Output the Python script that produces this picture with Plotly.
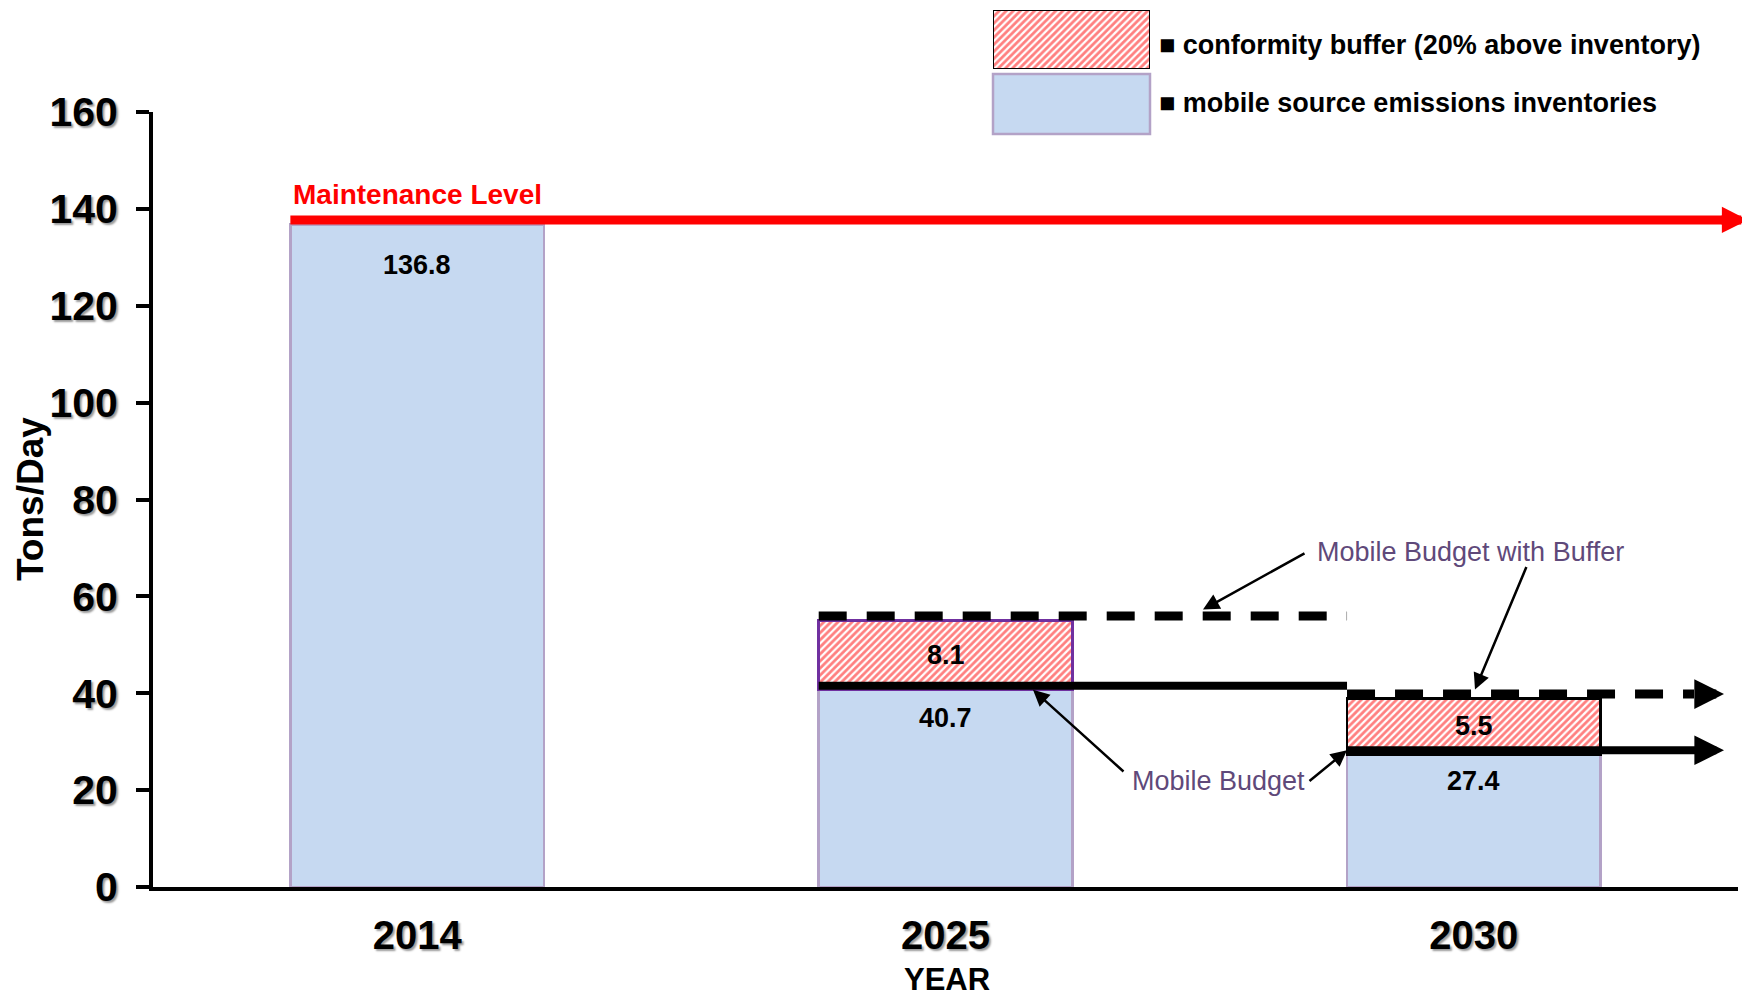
import plotly.graph_objects as go

# ---------------- data ----------------
years = ["2014", "2025", "2030"]
inventory = [136.8, 40.7, 27.4]                 # mobile source emissions inventories
inventory_labels = ["136.8", "40.7", "27.4"]
buffer_heights = [None, 14.3, 11.5]             # drawn height of the hatched buffer boxes
buffer_labels = ["", "8.1", "5.5"]              # conformity buffer values as labelled
maintenance_level = 136.8
y_ticks = [0, 20, 40, 60, 80, 100, 120, 140, 160]

# ---------------- layout constants ----------------
OX, OY = 8, 8                      # page body margin
W, H = 1750 - OX, 1003 - OY
L, R, T, B = 153, 1738, 112, 887   # plot-area extents in screen pixels
px_per_cat = (R - L) / 3.0
x_range = [-0.5, -0.5 + (1750 - L) / px_per_cat]
BAR_W = 0.48
FONT = "Liberation Sans"
BLUE = "#C6D9F1"
BLUE_EDGE = "#B3A2C7"
PURPLE_TXT = "#5F497A"
HATCH = dict(shape="/", fgcolor="#FF0000", bgcolor="white", size=5, solidity=0.55)

xs = list(range(len(years)))


def px2x(p):
    return (p - L) / px_per_cat - 0.5


def pxp(p):
    return (p - OX) / W


def pyp(p):
    return 1 - (p - OY) / H


red_tip = px2x(1748)
black_tip = px2x(1724)

fig = go.Figure()

fig.add_trace(go.Bar(
    x=xs, y=inventory, width=BAR_W,
    marker=dict(color=BLUE, line=dict(color=BLUE_EDGE, width=2.5)),
    hoverinfo="skip", showlegend=False))

fig.add_trace(go.Bar(
    x=xs, y=buffer_heights, width=BAR_W,
    marker=dict(color="white", pattern=HATCH,
                line=dict(color=["rgba(0,0,0,0)", "#7030A0", "black"], width=2.5)),
    hoverinfo="skip", showlegend=False))

# legend swatch (hatched) drawn on a hidden mini axis
fig.add_trace(go.Bar(
    x=[0], y=[1], width=1, xaxis="x2", yaxis="y2", cliponaxis=False,
    marker=dict(color="white", pattern=HATCH, line=dict(color="black", width=2.5)),
    hoverinfo="skip", showlegend=False))

shapes = []
ann = []


def hline(x0, x1, yval, off, width, color, dash="solid"):
    shapes.append(dict(type="line", xref="x", yref="y", x0=x0, x1=x1,
                       ysizemode="pixel", yanchor=yval, y0=off, y1=off,
                       line=dict(color=color, width=width, dash=dash), layer="above"))


def head(xtip, yval, off, color, width, size):
    ann.append(dict(x=xtip, y=yval, yshift=off, ax=-28, ay=0, text="", showarrow=True,
                    arrowhead=2, arrowsize=size, arrowwidth=width, arrowcolor=color,
                    standoff=0))


# maintenance level arrow
hline(0 - BAR_W / 2, red_tip - 0.03, maintenance_level, 4.5, 9, "#FF0000")
head(red_tip, maintenance_level, 4.5, "#FF0000", 9, 0.58)

# mobile budget lines
top25 = inventory[1] + buffer_heights[1]
top30 = inventory[2] + buffer_heights[2]
hline(1 - BAR_W / 2, 2 - BAR_W / 2, top25, 4.5, 9, "black", "28px,20px")
hline(1 - BAR_W / 2, 2 - BAR_W / 2, inventory[1], 4, 8, "black")
hline(2 - BAR_W / 2, black_tip - 30 / px_per_cat, top30, 4.5, 9, "black", "28px,20px")
head(black_tip, top30, 4.5, "black", 9, 0.66)
hline(2 - BAR_W / 2, black_tip - 0.03, inventory[2], 4, 8, "black")
head(black_tip, inventory[2], 4, "black", 8, 0.74)

# x axis line
shapes.append(dict(type="line", xref="paper", yref="paper", x0=pxp(L - 4), x1=pxp(R),
                   y0=pyp(B + 2), y1=pyp(B + 2), line=dict(color="black", width=4)))

# legend plain swatch
shapes.append(dict(type="rect", xref="paper", yref="paper",
                   x0=pxp(993), x1=pxp(1150), y0=pyp(134), y1=pyp(74),
                   fillcolor=BLUE, line=dict(color=BLUE_EDGE, width=2.5)))

label_shift = [-41, -28, -27]
for i in xs:
    ann.append(dict(x=i, y=inventory[i], yshift=label_shift[i], text=inventory_labels[i],
                    xanchor="center", yanchor="middle", showarrow=False,
                    font=dict(family=FONT, size=27, color="black", weight="bold")))
    if buffer_heights[i]:
        ann.append(dict(x=i, y=inventory[i] + buffer_heights[i] / 2, text=buffer_labels[i],
                        xanchor="center", yanchor="middle", showarrow=False,
                        font=dict(family=FONT, size=27, color="black", weight="bold")))


def text(px, py, s, size, color="black", bold=True, xanchor="center", angle=0):
    f = dict(family=FONT, size=size, color=color)
    if bold:
        f["weight"] = "bold"
    ann.append(dict(xref="paper", yref="paper", x=pxp(px), y=pyp(py), text=s,
                    xanchor=xanchor, yanchor="middle", textangle=angle,
                    showarrow=False, font=f))


text(291, 194, "Maintenance Level", 28, "#FF0000", xanchor="left")
text(1470, 552, "Mobile Budget with Buffer", 27, PURPLE_TXT, bold=False)
text(1218, 781, "Mobile Budget", 27, PURPLE_TXT, bold=False)

# pointer arrows (head at the budget lines, tail offsets in pixels)
for (xx, yy, ys, ax, ay) in [
    (px2x(1203), top25, 11, 103, -57),
    (px2x(1475), top30, 9, 52, -124),
    (px2x(1033), inventory[1], 0, 92, 83),
    (px2x(1347), inventory[2], 4, -39, 32),
]:
    ann.append(dict(x=xx, y=yy, yshift=ys, ax=ax, ay=ay, text="", showarrow=True,
                    arrowhead=2, arrowsize=1.3, arrowwidth=2.5, arrowcolor="black"))

# legend texts
text(1157, 45, "\u25a0 conformity buffer (20% above inventory)", 27, xanchor="left")
text(1157, 103, "\u25a0 mobile source emissions inventories", 27, xanchor="left")

# axis titles
text(947, 979, "YEAR", 31)
text(31, 499, "Tons/Day", 37, angle=-90)

fig.update_layout(
    width=W, height=H, margin=dict(l=0, r=0, t=0, b=0),
    paper_bgcolor="white", plot_bgcolor="white",
    barmode="stack", showlegend=False,
    shapes=shapes, annotations=ann,
    xaxis=dict(domain=[pxp(L), 1.0], range=x_range, tickvals=xs, ticktext=years,
               showline=False, ticks="", showgrid=False, zeroline=False, automargin=False,
               ticklabelstandoff=21,
               tickfont=dict(family=FONT, size=40, color="black", weight="bold",
                             shadow="2px 2px 2px #9a9a9a")),
    yaxis=dict(domain=[pyp(B), pyp(T)], range=[0, 160], tickvals=y_ticks,
               showline=True, linewidth=4, linecolor="black", ticks="outside",
               ticklen=13, tickwidth=4, tickcolor="black", showgrid=False, zeroline=False,
               automargin=False, ticklabelstandoff=10,
               tickfont=dict(family=FONT, size=41, color="black", weight="bold",
                             shadow="2px 2px 2px #9a9a9a")),
    xaxis2=dict(domain=[pxp(993), pxp(1150)], range=[-0.5, 0.5], anchor="y2", visible=False,
                fixedrange=True),
    yaxis2=dict(domain=[pyp(69), pyp(10)], range=[0, 1], anchor="x2", visible=False,
                fixedrange=True),
)

fig.write_html("out.html")
